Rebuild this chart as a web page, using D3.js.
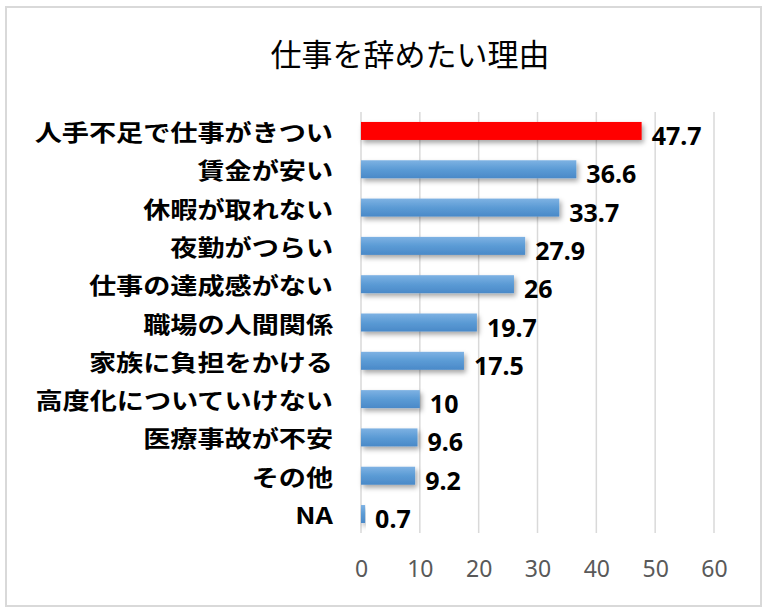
<!DOCTYPE html>
<html>
<head>
<meta charset="utf-8">
<script src="https://cdn.jsdelivr.net/npm/d3@7"></script>
<style>
  body { margin: 0; background: #fff; }
  svg { display: block; }
</style>
</head>
<body>
<script>
let width = 768;
let height = 613;

// data
let reasons = ['人手不足で仕事がきつい', '賃金が安い', '休暇が取れない', '夜勤がつらい', '仕事の達成感がない',
  '職場の人間関係', '家族に負担をかける', '高度化についていけない', '医療事故が不安', 'その他', 'NA'];
let percents = [47.7, 36.6, 33.7, 27.9, 26, 19.7, 17.5, 10, 9.6, 9.2, 0.7];
let ticks = [0, 10, 20, 30, 40, 50, 60];
let title = '仕事を辞めたい理由';

let svg = d3.select('body').append('svg')
  .attr('width', width)
  .attr('height', height);

let defs = svg.append('defs');
let grad = defs.append('linearGradient').attr('id', 'blueGrad')
  .attr('x1', 0).attr('y1', 0).attr('x2', 0).attr('y2', 1);
grad.append('stop').attr('offset', '0%').attr('stop-color', '#7eb2e3');
grad.append('stop').attr('offset', '50%').attr('stop-color', '#5b9bd5');
grad.append('stop').attr('offset', '100%').attr('stop-color', '#4a89c8');

let shadow = defs.append('filter').attr('id', 'shadow')
  .attr('x', '-10%').attr('y', '-40%').attr('width', '130%').attr('height', '200%');
shadow.append('feDropShadow').attr('dx', 2).attr('dy', 3).attr('stdDeviation', 2.5)
  .attr('flood-color', '#000').attr('flood-opacity', 0.35);

// outer border
svg.append('rect')
  .attr('x', 6).attr('y', 7).attr('width', 755).attr('height', 599)
  .attr('fill', '#fff').attr('stroke', '#d9d9d9').attr('stroke-width', 2);

// title
svg.append('text')
  .attr('x', 410).attr('y', 52)
  .attr('text-anchor', 'middle')
  .attr('dominant-baseline', 'central')
  .style('font-family', '"Noto Sans CJK JP", sans-serif')
  .style('font-size', '31px')
  .style('font-weight', 400)
  .attr('fill', '#000')
  .text(title);

let x = d3.scaleLinear().domain([0, 60]).range([361, 714]);
let y = d3.scaleBand().domain(reasons).range([112, 533]).paddingInner(0.53).paddingOuter(0.26);

// grid lines
svg.append('g').selectAll('line').data(ticks).join('line')
  .attr('x1', d => x(d)).attr('x2', d => x(d))
  .attr('y1', 112).attr('y2', 533)
  .attr('stroke', '#d9d9d9').attr('stroke-width', 1.5);

// x tick labels
let xAxis = d3.axisBottom(x).tickValues(ticks).tickSize(0).tickPadding(0);
let ax = svg.append('g').attr('transform', 'translate(0,561)').call(xAxis);
ax.select('.domain').remove();
ax.selectAll('text')
  .style('font-family', '"Noto Sans", sans-serif')
  .style('font-size', '23px')
  .attr('fill', '#595959');

// bars
svg.append('g').selectAll('rect').data(percents).join('rect')
  .attr('x', x(0))
  .attr('y', (d, i) => y(reasons[i]))
  .attr('width', d => x(d) - x(0))
  .attr('height', y.bandwidth())
  .attr('fill', (d, i) => i === 0 ? '#ff0000' : 'url(#blueGrad)')
  .attr('filter', 'url(#shadow)');

// category labels
svg.append('g').selectAll('text').data(reasons).join('text')
  .attr('transform', d => `translate(333,${y(d) + y.bandwidth() / 2}) scale(1.18,1)`)
  .attr('text-anchor', 'end')
  .attr('dominant-baseline', 'central')
  .style('font-family', '"Noto Sans CJK JP", sans-serif')
  .style('font-size', '23px')
  .style('font-weight', 600)
  .attr('fill', '#000')
  .text(d => d);

// value labels
svg.append('g').selectAll('text').data(percents).join('text')
  .attr('x', d => x(d) + 10)
  .attr('y', (d, i) => y(reasons[i]) + y.bandwidth() / 2 + 4)
  .attr('dominant-baseline', 'central')
  .style('font-family', '"Noto Sans", sans-serif')
  .style('font-size', '25px')
  .style('font-weight', 700)
  .attr('fill', '#000')
  .text(d => d);
</script>
</body>
</html>
